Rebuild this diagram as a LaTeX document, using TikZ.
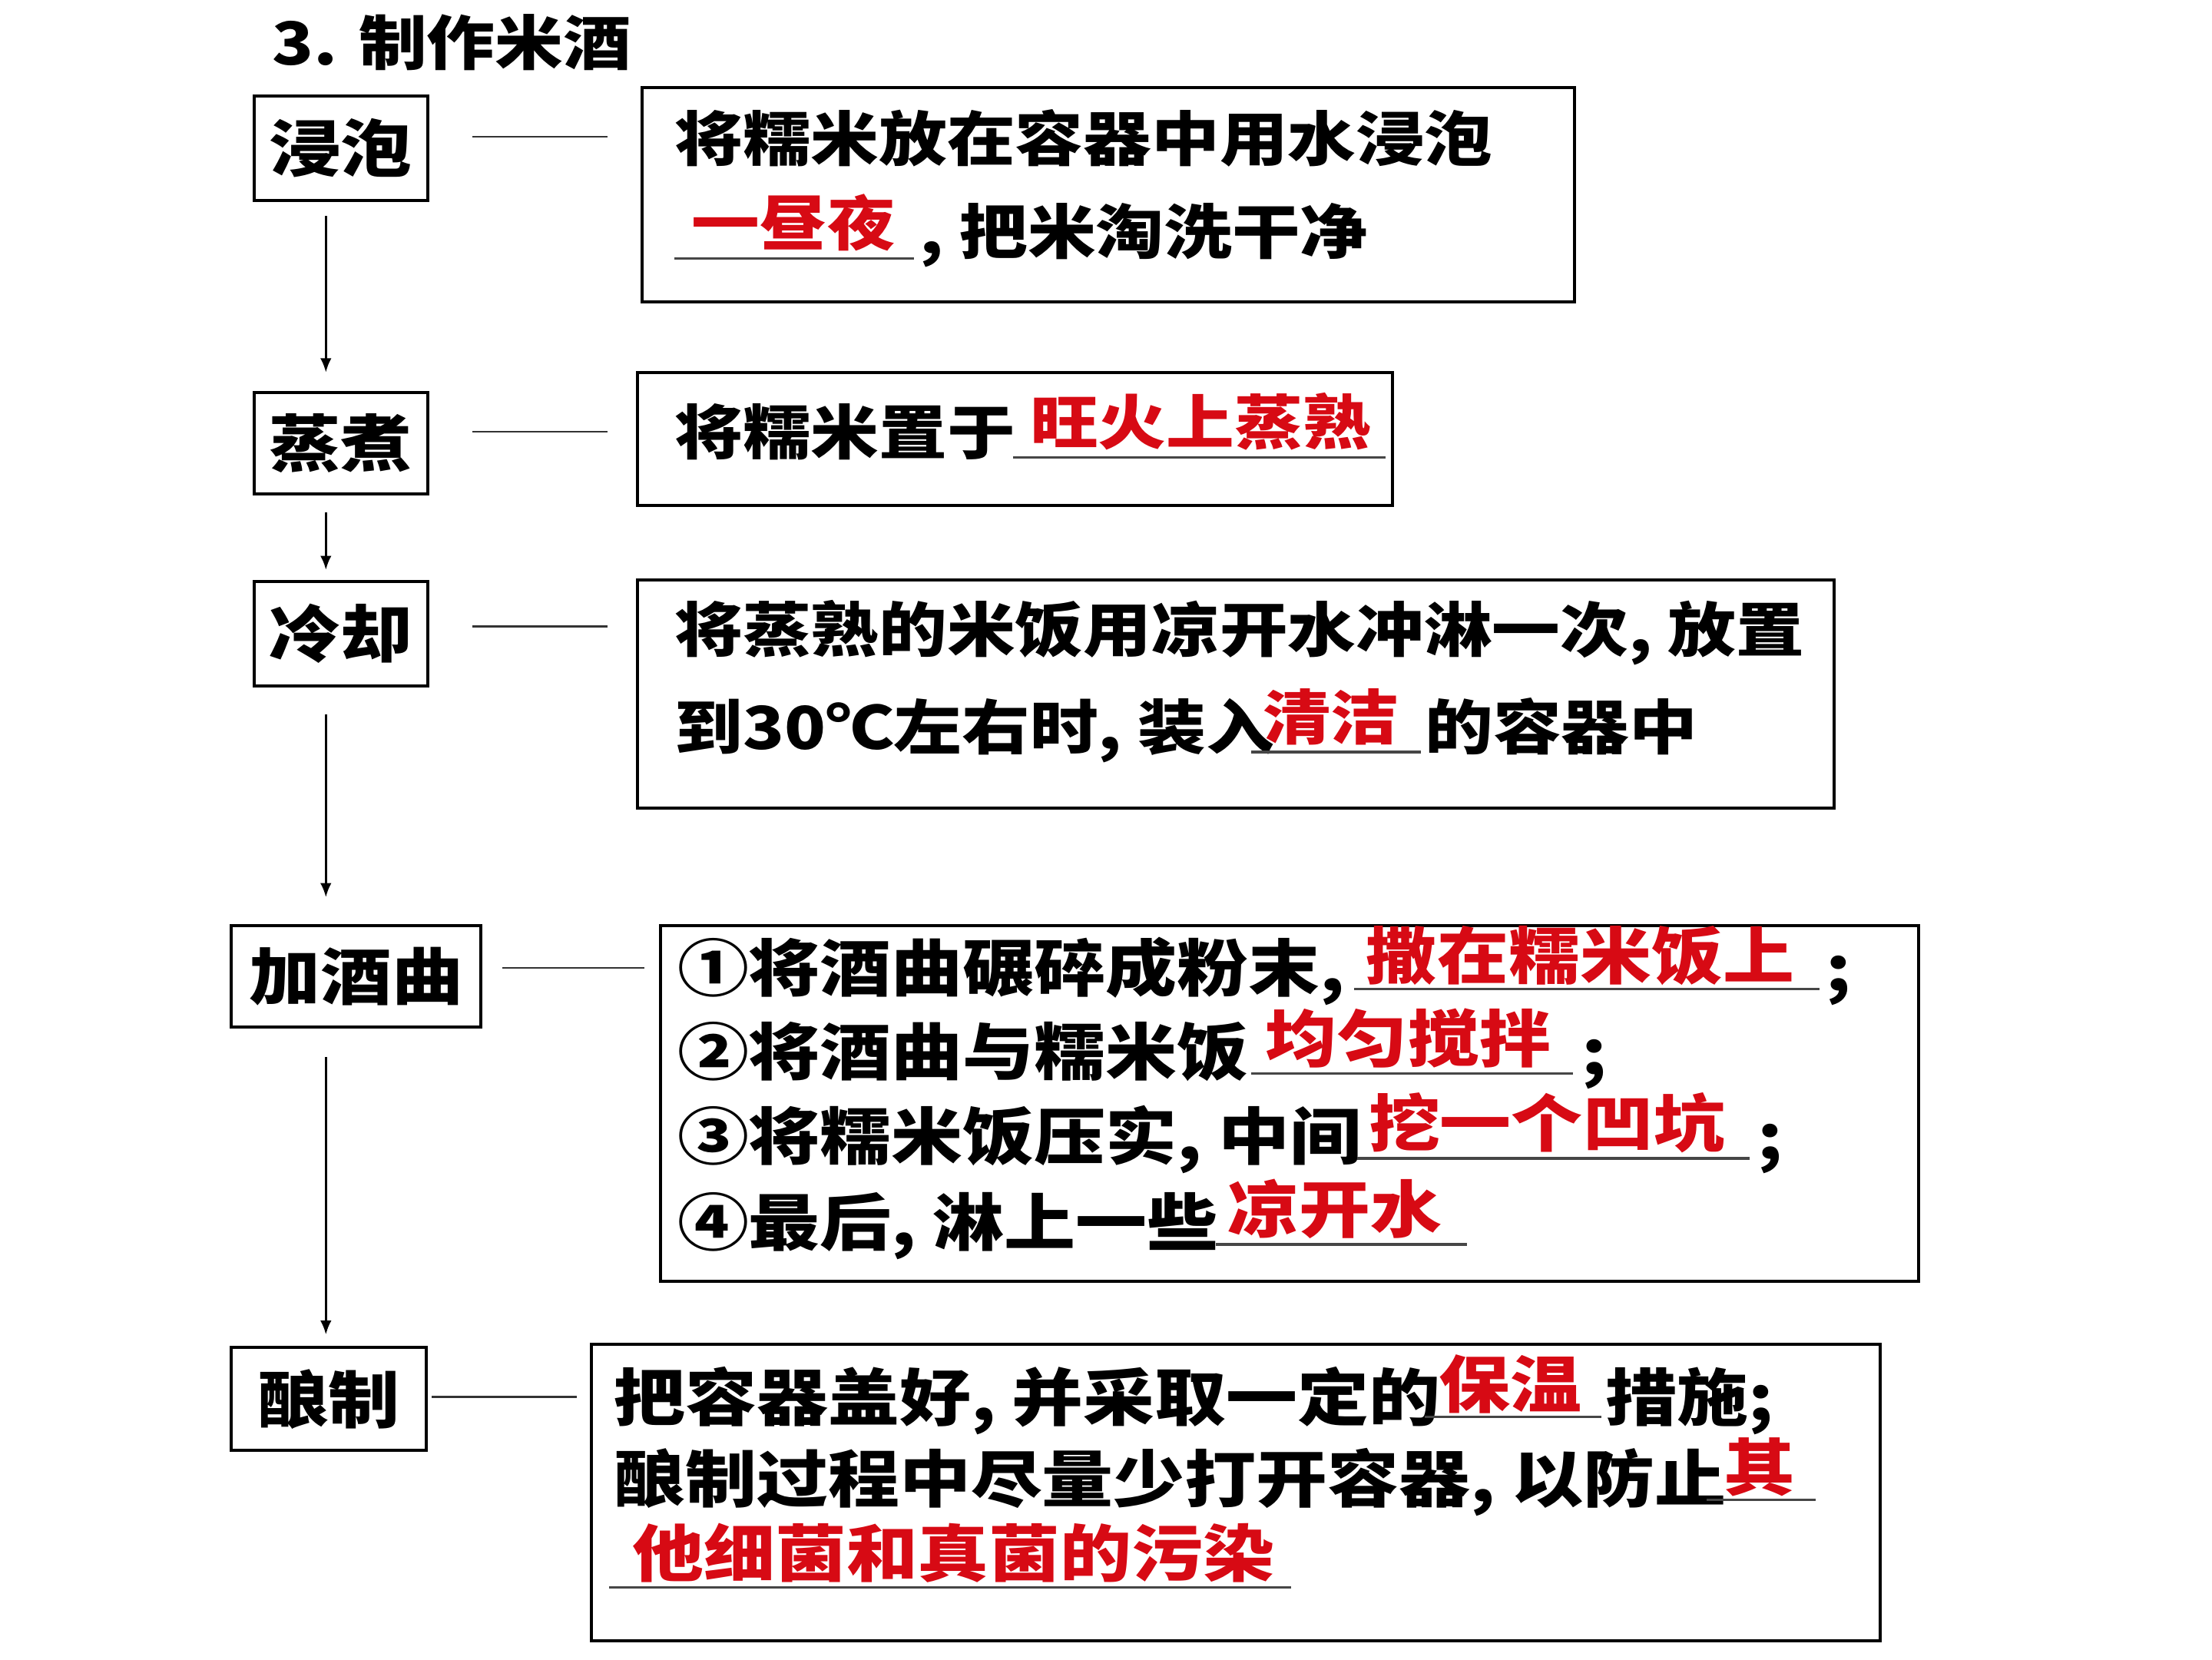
\documentclass[tikz,border=0pt]{standalone}
\usepackage{fontspec}
\setmainfont{Noto Sans CJK SC}[FakeStretch=1.15]
\usetikzlibrary{arrows.meta}
\definecolor{ansred}{RGB}{215,10,20}
\definecolor{ulgray}{RGB}{70,70,70}
\tikzset{
  fontA/.style={font=\bfseries\fontsize{42}{42}\selectfont},
  fontB/.style={font=\bfseries\fontsize{44}{44}\selectfont},
  lbox/.style={draw, line width=2.2pt, inner sep=0pt, fontB},
  tbox/.style={draw, line width=2.2pt, inner sep=0pt},
  txt/.style={anchor=west, inner sep=0pt, fontA, text height=37pt, text depth=5pt},
  txtb/.style={anchor=west, inner sep=0pt, fontB, text height=38.7pt, text depth=5.3pt},
  ans/.style={txt, text=ansred},
  ansb/.style={txtb, text=ansred},
  link/.style={line width=1.2pt, draw=black!80},
  arr/.style={line width=1.5pt, -{Latex[length=10pt,width=8pt]}},
  uline/.style={line width=1.7pt, draw=ulgray}
}
\begin{document}
\begin{tikzpicture}[x=1pt,y=-1pt]
\useasboundingbox[fill=white] (0,0) rectangle (1568,1176);
% title
\node[txt] (title) at (193,30) {3. 制作米酒};
% left step boxes
\node[lbox, minimum width=123pt, minimum height=74pt] (b1) at (241.5,105) {浸泡};
\node[lbox, minimum width=123pt, minimum height=72pt] (b2) at (241.5,314) {蒸煮};
\node[lbox, minimum width=123pt, minimum height=74pt] (b3) at (241.5,449) {冷却};
\node[lbox, minimum width=177pt, minimum height=72pt] (b4) at (252.5,692) {加酒曲};
\node[lbox, minimum width=138pt, minimum height=73pt] (b5) at (233,991.5) {酿制};
% right text boxes
\node[tbox, minimum width=661pt, minimum height=152pt] (t1) at (785.5,138) {};
\node[tbox, minimum width=535pt, minimum height=94pt] (t2) at (719.5,311) {};
\node[tbox, minimum width=848pt, minimum height=162pt] (t3) at (876,492) {};
\node[tbox, minimum width=892pt, minimum height=252pt] (t4) at (914,782) {};
\node[tbox, minimum width=914pt, minimum height=210pt] (t5) at (876,1058) {};
% connectors
\draw[link, shorten <=31pt, shorten >=23pt] ([yshift=8pt]b1.east) -- ([yshift=8pt]b1.east -| t1.west);
\draw[link, shorten <=31pt, shorten >=20pt] ([yshift=8pt]b2.east) -- ([yshift=8pt]b2.east -| t2.west);
\draw[link, shorten <=31pt, shorten >=20pt] ([yshift=5pt]b3.east) -- ([yshift=5pt]b3.east -| t3.west);
\draw[link, shorten <=14pt, shorten >=10pt] ([yshift=6pt]b4.east) -- ([yshift=6pt]b4.east -| t4.west);
\draw[link, shorten <=3pt, shorten >=9pt] ([yshift=1.5pt]b5.east) -- ([yshift=1.5pt]b5.east -| t5.west);
% arrows
\coordinate (ax) at (231,0);
\draw[arr, shorten <=10pt, shorten >=13pt] (b1.south -| ax) -- (b2.north -| ax);
\draw[arr, shorten <=12pt, shorten >=7pt] (b2.south -| ax) -- (b3.north -| ax);
\draw[arr, shorten <=19pt, shorten >=19pt] (b3.south -| ax) -- (b4.north -| ax);
\draw[arr, shorten <=20pt, shorten >=8pt] (b4.south -| ax) -- (b5.north -| ax);
% box 1
\node[txt] (t1a) at (478,98) {将糯米放在容器中用水浸泡};
\node[ans] (t1r) at (490,158) {一昼夜};
\draw[uline] (478,183) -- (648,183);
\node[txt] (t1b) at (652,164) {, 把米淘洗干净};
% box 2
\node[txt] (t2a) at (478,306) {将糯米置于};
\node[ans] (t2r) at (730,299) {旺火上蒸熟};
\draw[uline] (718,324) -- (982,324);
% box 3
\node[txt] (t3a) at (478,446) {将蒸熟的米饭用凉开水冲淋一次, 放置};
\node[txt] (t3b) at (478,515) {到30℃左右时, 装入};
\node[ans] (t3r) at (895,508) {清洁};
\draw[uline] (887,533) -- (1007,533);
\node[txt] (t3c) at (1010,515) {的容器中};
% box 4
\node[txtb] (t4a) at (480,686) {①将酒曲碾碎成粉末, };
\node[ansb] (t4ar) at (968,677) {撒在糯米饭上};
\draw[uline] (960,701) -- (1290,701);
\node[txtb] (t4as) at (1294,686) {;};
\node[txtb] (t4b) at (480,745) {②将酒曲与糯米饭};
\node[ansb] (t4br) at (897,736) {均匀搅拌};
\draw[uline] (887,761) -- (1115,761);
\node[txtb] (t4bs) at (1121,745) {;};
\node[txtb] (t4c) at (480,805) {③将糯米饭压实, 中间};
\node[ansb] (t4cr) at (970,796) {挖一个凹坑};
\draw[uline] (962,821) -- (1240,821);
\node[txtb] (t4cs) at (1246,805) {;};
\node[txtb] (t4d) at (480,866) {④最后, 淋上一些};
\node[ansb] (t4dr) at (870,857) {凉开水};
\draw[uline] (862,882) -- (1040,882);
% box 5
\node[txtb] (t5a) at (435,990) {把容器盖好, 并采取一定的};
\node[ansb] (t5ar) at (1020,981) {保温};
\draw[uline] (1010,1004) -- (1135,1004);
\node[txtb] (t5as) at (1138,990) {措施;};
\node[txtb] (t5b) at (435,1048) {酿制过程中尽量少打开容器, 以防止};
\node[ansb] (t5br) at (1222,1040) {其};
\draw[uline] (1210,1063) -- (1287,1063);
\node[ansb] (t5c) at (448,1101) {他细菌和真菌的污染};
\draw[uline] (432,1125) -- (915,1125);
\end{tikzpicture}
\end{document}
